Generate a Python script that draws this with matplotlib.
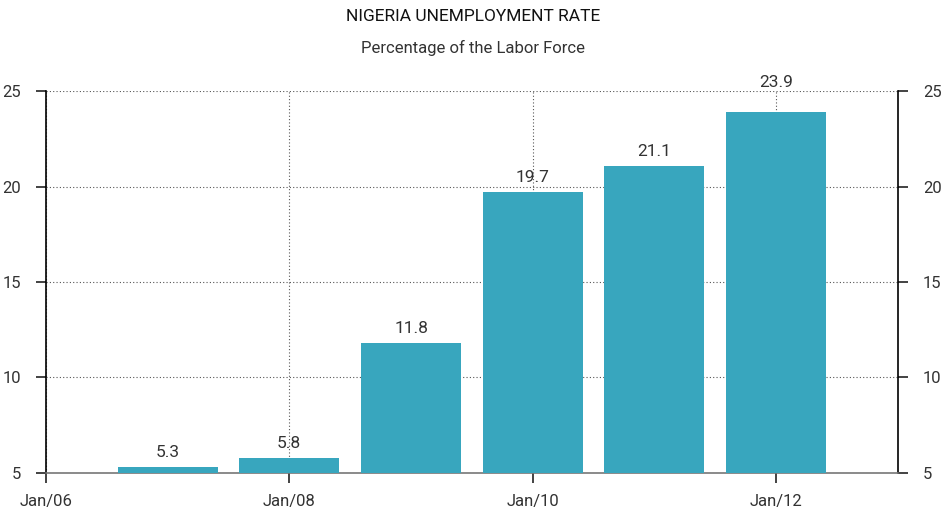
import datetime as dt
import matplotlib
matplotlib.use("Agg")
import matplotlib.pyplot as plt
import matplotlib.dates as mdates

plt.rcParams['font.family'] = ['Roboto', 'DejaVu Sans']

years = [2007, 2008, 2009, 2010, 2011, 2012]
rates = [5.3, 5.8, 11.8, 19.7, 21.1, 23.9]
tick_years = [2006, 2008, 2010, 2012]

dates = [dt.datetime(y, 1, 1) for y in years]

fig = plt.figure(figsize=(9.46, 5.15), dpi=100)
ax = fig.add_axes([0.0486, 0.082, 0.9004, 0.741])

bars = ax.bar(dates, rates, width=300, color='#38a6be', bottom=0, zorder=3)
top = max(rates)
for d, v in zip(dates, rates):
    # the tallest label sits above the top gridline, as in the source chart
    off = 16 if v == top else 5
    ax.annotate(f'{v:.1f}', (d, v), xytext=(0, off), textcoords='offset points',
                ha='center', va='bottom', fontsize=12.5, color='#333333', zorder=4,
                annotation_clip=False)

ax.set_xlim(dt.datetime(2006, 1, 1), dt.datetime(2013, 1, 1))
ax.set_ylim(5, 25)
ax.set_yticks([5, 10, 15, 20, 25])
ax.set_xticks([dt.datetime(y, 1, 1) for y in tick_years])
ax.xaxis.set_major_formatter(mdates.DateFormatter('%b/%y'))

ax.grid(True, linestyle=(0, (1, 2)), color='#555555', linewidth=0.8, zorder=0)
ax.set_axisbelow(True)

ax.spines['top'].set_visible(False)
ax.spines['bottom'].set_color('#777777')
ax.spines['bottom'].set_linewidth(1.2)
ax.spines['left'].set_linewidth(1.2)
ax.spines['right'].set_linewidth(1.2)

ax.tick_params(axis='y', direction='out', length=7, width=1.2, labelsize=12, pad=11,
               left=True, right=True, labelleft=True, labelright=True, colors='#222222',
               labelcolor='#333333')
ax.tick_params(axis='x', direction='out', length=7, width=1.2, labelsize=12, pad=8,
               colors='#222222', labelcolor='#333333')

fig.text(0.5, 0.968, 'NIGERIA UNEMPLOYMENT RATE', ha='center', va='center', fontsize=12.5, color='#111111')
fig.text(0.5, 0.906, 'Percentage of the Labor Force', ha='center', va='center', fontsize=12, color='#333333')

fig.savefig('out.png', dpi=100)
